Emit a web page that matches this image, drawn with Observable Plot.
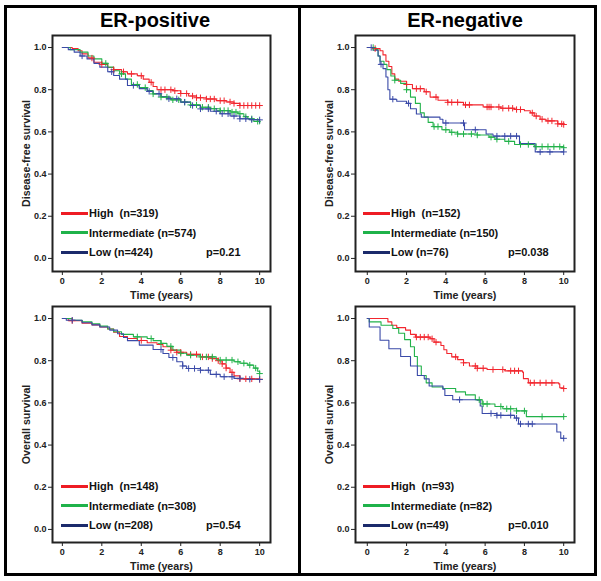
<!DOCTYPE html>
<html><head><meta charset="utf-8">
<script src="https://cdn.jsdelivr.net/npm/d3@7"></script>
<script src="https://cdn.jsdelivr.net/npm/@observablehq/plot@0.6"></script>
<style>
body{margin:0;background:#fff;font-family:"Liberation Sans",Arial,sans-serif;}
#root{position:relative;width:601px;height:581px;overflow:hidden;background:#fff;}
.abs{position:absolute;}
.title{font-size:20px;font-weight:bold;line-height:20px;color:#000;text-align:center;width:200px;}
.leg{font-size:11px;font-weight:bold;line-height:12px;color:#111;white-space:pre;}
.sw{height:3px;width:27px;}
.panel svg g[aria-label="x-axis label"] text,.panel svg g[aria-label="y-axis label"] text{font-size:10.7px;}
</style></head>
<body><div id="root"></div>
<script>
// ---------- data ----------
const groups = ["High", "Intermediate", "Low"];
const panelTitles = ["ER-positive", "ER-negative"];
const xTicks = [0, 2, 4, 6, 8, 10];
const yTicks = [0, 0.2, 0.4, 0.6, 0.8, 1.0];

// ER-positive, disease-free survival
const erPosDfsHigh = [[0,1],[0.5,0.995],[0.8,0.985],[1.0,0.97],[1.3,0.95],[1.6,0.93],[2.0,0.92],[2.3,0.905],[2.6,0.895],[3.0,0.885],[3.3,0.875],[3.8,0.866],[4.1,0.85],[4.4,0.835],[4.6,0.815],[4.8,0.80],[5.6,0.795],[6.0,0.782],[6.4,0.77],[6.8,0.762],[7.3,0.756],[7.8,0.748],[8.3,0.742],[8.7,0.735],[9.0,0.725],[10,0.725]];
const erPosDfsInt = [[0,1],[0.4,0.99],[0.9,0.978],[1.3,0.96],[1.6,0.946],[2.0,0.925],[2.3,0.907],[2.6,0.89],[2.9,0.875],[3.2,0.85],[3.5,0.825],[3.9,0.81],[4.3,0.796],[4.6,0.78],[5.0,0.765],[5.5,0.752],[6.0,0.741],[6.5,0.728],[7.0,0.717],[7.5,0.71],[8.0,0.701],[8.5,0.694],[8.9,0.686],[9.2,0.672],[9.4,0.662],[9.7,0.65],[10,0.638]];
const erPosDfsLow = [[0,1],[0.3,0.99],[0.6,0.978],[0.9,0.96],[1.25,0.946],[1.6,0.925],[1.9,0.907],[2.3,0.885],[2.6,0.867],[2.9,0.85],[3.3,0.82],[3.9,0.805],[4.3,0.792],[4.6,0.781],[5.0,0.768],[5.3,0.757],[6.0,0.741],[6.5,0.725],[7.0,0.709],[7.5,0.698],[8.0,0.686],[8.5,0.675],[9.0,0.662],[9.5,0.658],[10,0.657]];
const erPosDfsHighCens = [1.5,2.0,2.6,3.1,3.5,4.0,4.5,5.0,5.2,5.5,5.7,6.0,6.3,6.6,6.8,7.0,7.3,7.5,7.7,8.0,8.2,8.5,8.7,9.0,9.2,9.4,9.6,9.8,10];
const erPosDfsIntCens = [2.2,3.0,3.8,4.2,4.6,5.0,5.3,5.6,5.9,6.2,6.5,6.8,7.1,7.4,7.7,8.0,8.2,8.4,8.6,8.8,9.0,9.3,9.6,9.9];
const erPosDfsLowCens = [1.0,2.5,3.6,4.4,4.9,5.4,5.8,6.2,6.6,7.0,7.4,7.8,8.1,8.4,8.7,9.0,9.3,9.6,10];

// ER-negative, disease-free survival
const erNegDfsHigh = [[0,1],[0.4,0.995],[0.65,0.985],[0.8,0.965],[0.95,0.935],[1.1,0.91],[1.25,0.875],[1.4,0.85],[1.6,0.84],[2.0,0.825],[2.3,0.805],[2.9,0.79],[3.2,0.765],[3.6,0.75],[4.1,0.74],[4.9,0.728],[5.9,0.718],[6.8,0.712],[7.5,0.706],[8.0,0.7],[8.3,0.69],[8.5,0.675],[8.8,0.66],[9.1,0.652],[9.7,0.638],[10,0.635]];
const erNegDfsInt = [[0,1],[0.4,0.99],[0.55,0.96],[0.65,0.935],[0.85,0.92],[1.0,0.895],[1.2,0.865],[1.4,0.845],[1.7,0.83],[2.0,0.8],[2.2,0.765],[2.45,0.735],[2.7,0.69],[2.9,0.67],[3.1,0.645],[3.35,0.625],[3.8,0.61],[4.2,0.598],[4.6,0.59],[5.6,0.585],[6.2,0.575],[6.5,0.565],[7.0,0.555],[7.5,0.54],[8.5,0.53],[10,0.525]];
const erNegDfsLow = [[0,1],[0.3,0.987],[0.55,0.96],[0.65,0.92],[0.8,0.9],[0.95,0.86],[1.05,0.8],[1.15,0.755],[1.5,0.745],[2.0,0.735],[2.2,0.71],[2.5,0.685],[2.75,0.67],[3.7,0.66],[3.85,0.642],[4.95,0.61],[6.05,0.59],[6.4,0.58],[7.75,0.545],[8.55,0.505],[10,0.505]];
const erNegDfsHighCens = [0.4,2.0,2.5,2.7,3.0,3.5,4.1,4.3,4.6,5.0,5.2,6.1,6.2,6.3,6.7,6.9,7.2,7.4,7.6,7.8,8.4,8.6,8.9,9.2,9.4,9.7,9.9,10];
const erNegDfsIntCens = [0.3,1.4,2.0,3.4,3.6,4.0,4.3,4.6,4.9,5.3,5.6,6.3,6.6,7.2,7.8,8.2,8.6,8.9,9.2,9.5,9.8,10];
const erNegDfsLowCens = [0.2,0.7,1.3,2.1,4.0,4.9,5.5,6.6,7.0,7.3,7.6,8.8,9.3,10];

// ER-positive, overall survival
const erPosOsHigh = [[0,1],[0.3,0.99],[1.0,0.978],[1.5,0.97],[1.9,0.96],[2.3,0.95],[2.6,0.935],[2.9,0.915],[3.3,0.905],[3.8,0.896],[4.3,0.885],[4.8,0.877],[5.1,0.866],[5.5,0.85],[5.8,0.84],[6.3,0.83],[7.0,0.818],[7.6,0.81],[7.9,0.80],[8.1,0.785],[8.3,0.765],[8.5,0.745],[8.7,0.728],[9.0,0.714],[10,0.712]];
const erPosOsInt = [[0,1],[0.5,0.992],[1.0,0.985],[1.5,0.975],[1.9,0.964],[2.3,0.95],[2.6,0.937],[3.0,0.925],[3.6,0.913],[4.3,0.905],[4.6,0.895],[5.0,0.882],[5.3,0.868],[5.6,0.85],[6.0,0.835],[6.3,0.826],[7.0,0.818],[7.8,0.803],[8.7,0.795],[9.0,0.788],[9.4,0.779],[9.7,0.765],[9.9,0.75],[10,0.739]];
const erPosOsLow = [[0,1],[0.2,0.992],[1.0,0.98],[1.5,0.97],[1.9,0.96],[2.4,0.945],[2.8,0.928],[3.1,0.91],[3.3,0.895],[3.9,0.874],[4.6,0.853],[5.1,0.834],[5.4,0.815],[5.8,0.795],[6.1,0.775],[6.3,0.763],[7.0,0.755],[7.5,0.735],[8.0,0.724],[8.7,0.716],[9.2,0.712],[10,0.711]];
const erPosOsHighCens = [0.5,4.0,5.5,5.8,6.0,6.5,6.8,7.1,7.4,7.6,7.9,8.1,8.3,8.6,9.0,9.3,9.6,10];
const erPosOsIntCens = [3.8,4.5,5.0,5.5,6.0,6.5,7.0,7.3,7.6,8.0,8.3,8.6,8.9,9.2,9.5,9.8,10];
const erPosOsLowCens = [0.5,5.0,5.6,6.1,6.4,6.7,7.0,7.4,7.8,8.2,8.6,9.0,9.5,10];

// ER-negative, overall survival
const erNegOsHigh = [[0,1],[1.05,0.984],[1.25,0.968],[1.5,0.957],[1.95,0.945],[2.2,0.925],[2.45,0.912],[3.2,0.904],[3.4,0.888],[3.75,0.872],[3.9,0.852],[4.05,0.834],[4.3,0.818],[4.6,0.805],[4.9,0.79],[5.2,0.775],[5.6,0.764],[6.1,0.758],[7.0,0.752],[7.9,0.746],[7.95,0.715],[8.2,0.695],[9.75,0.69],[9.8,0.672],[10,0.668]];
const erNegOsInt = [[0,1],[0.1,0.984],[0.7,0.968],[1.3,0.953],[1.6,0.93],[1.9,0.9],[2.2,0.866],[2.4,0.82],[2.55,0.775],[2.75,0.73],[3.0,0.695],[3.3,0.675],[3.85,0.668],[4.5,0.652],[5.0,0.638],[5.5,0.615],[5.85,0.595],[6.5,0.583],[6.9,0.572],[7.6,0.562],[8.1,0.535],[10,0.535]];
const erNegOsLow = [[0,1],[0.1,0.96],[0.65,0.897],[1.1,0.857],[1.7,0.82],[2.2,0.775],[2.55,0.73],[2.9,0.714],[3.15,0.68],[3.85,0.665],[3.95,0.635],[4.35,0.615],[5.6,0.613],[5.75,0.585],[5.85,0.55],[6.6,0.541],[7.5,0.528],[7.7,0.5],[9.55,0.5],[9.65,0.462],[9.85,0.432],[10,0.432]];
const erNegOsHighCens = [2.5,2.7,2.9,3.1,3.3,3.5,4.5,4.9,5.5,5.6,5.9,6.4,6.9,7.3,7.5,7.7,8.3,8.5,8.8,9.1,9.4,10];
const erNegOsIntCens = [5.7,5.9,6.1,6.8,7.1,7.3,7.6,8.0,8.9,10];
const erNegOsLowCens = [4.7,6.3,6.6,6.8,7.3,7.6,7.8,8.2,8.4,10];

const nTopLeft = [319, 574, 424], nTopRight = [152, 150, 76], nBotLeft = [148, 308, 208], nBotRight = [93, 82, 49];
const pValues = ["p=0.21", "p=0.038", "p=0.54", "p=0.010"];
const yLabels = ["Disease-free survival", "Overall survival"];
const xLabel = "Time (years)";

// ---------- styling ----------
const curveColors = ["#f2262e", "#22b24a", "#3a4aa8"];
const legendColors = ["#ee1c24", "#1fb24a", "#1b2a6b"];
const FONT = "Liberation Sans, Arial, Helvetica, sans-serif";

function survAt(curve, t) {
  let s = curve[0][1];
  for (const [ti, si] of curve) { if (ti <= t) s = si; else break; }
  return s;
}

const root = document.getElementById("root");
function addDiv(cls, css, text) {
  const d = document.createElement("div");
  d.className = "abs " + (cls || "");
  Object.assign(d.style, css);
  if (text != null) d.textContent = text;
  root.appendChild(d);
  return d;
}

function panel({left, top, width, mLeft, mRight, xDomain, curves, cens, yLabel, ns, p, legLeft, legTop}) {
  const rows = [];
  curves.forEach((c, i) => c.forEach(([t, s]) => rows.push({t, s, g: groups[i]})));
  const cr = [];
  cens.forEach((c, i) => c.forEach(t => cr.push({t, s: survAt(curves[i], t), g: groups[i]})));
  const chart = Plot.plot({
    width, height: 270,
    marginLeft: mLeft, marginRight: mRight, marginTop: 5, marginBottom: 29,
    style: {fontFamily: FONT, fontSize: "9px", fontWeight: "bold", color: "#222", background: "transparent", overflow: "visible"},
    x: {domain: xDomain, ticks: xTicks, tickSize: 4, tickPadding: 2, tickFormat: d => String(d), label: xLabel, labelAnchor: "center", labelOffset: 27, labelArrow: "none"},
    y: {domain: [-0.062, 1.057], ticks: yTicks, tickSize: 4, tickPadding: 2, tickFormat: d3.format(".1f"), label: yLabel, labelAnchor: "center", labelOffset: 30, labelArrow: "none"},
    color: {domain: groups, range: curveColors},
    marks: [
      Plot.line(rows, {x: "t", y: "s", z: "g", stroke: "g", curve: "step-after", strokeWidth: 1.1}),
      Plot.dot(cr, {x: "t", y: "s", stroke: "g", symbol: "plus", r: 2.2, strokeWidth: 1}),
      Plot.frame({stroke: "#222", strokeWidth: 2})
    ]
  });
  const wrap = addDiv("panel", {left: left + "px", top: top + "px"});
  wrap.appendChild(chart);
  // legend inside the plot frame
  const labels = [`High  (n=${ns[0]})`, `Intermediate (n=${ns[1]})`, `Low (n=${ns[2]})`];
  labels.forEach((lab, i) => {
    const cy = legTop + i * 19.5;
    addDiv("sw", {left: legLeft + "px", top: (cy - 1.5) + "px", background: legendColors[i]});
    addDiv("leg", {left: (legLeft + 28) + "px", top: (cy - 6) + "px"}, lab);
  });
  addDiv("leg", {left: (legLeft + 145) + "px", top: (legTop + 39 - 6) + "px"}, p);
}

// frame / dividers
addDiv("", {left: "4px", top: "5px", width: "593px", height: "571px", border: "3px solid #000", boxSizing: "border-box"});
addDiv("", {left: "298px", top: "5px", width: "3px", height: "571px", background: "#000"});
addDiv("title", {left: "55px", top: "10px"}, panelTitles[0]);
addDiv("title", {left: "365px", top: "10px"}, panelTitles[1]);

const L = {width: 290, mLeft: 52, mRight: 20, xDomain: [-0.5, 10.55]};
const R = {width: 300, mLeft: 55, mRight: 26, xDomain: [-0.6, 10.55]};
panel({left: 0, top: 30, ...L, curves: [erPosDfsHigh, erPosDfsInt, erPosDfsLow], cens: [erPosDfsHighCens, erPosDfsIntCens, erPosDfsLowCens], yLabel: yLabels[0], ns: nTopLeft, p: pValues[0], legLeft: 61, legTop: 213});
panel({left: 300, top: 30, ...R, curves: [erNegDfsHigh, erNegDfsInt, erNegDfsLow], cens: [erNegDfsHighCens, erNegDfsIntCens, erNegDfsLowCens], yLabel: yLabels[0], ns: nTopRight, p: pValues[1], legLeft: 363, legTop: 213});
panel({left: 0, top: 301, ...L, curves: [erPosOsHigh, erPosOsInt, erPosOsLow], cens: [erPosOsHighCens, erPosOsIntCens, erPosOsLowCens], yLabel: yLabels[1], ns: nBotLeft, p: pValues[2], legLeft: 61, legTop: 486});
panel({left: 300, top: 301, ...R, curves: [erNegOsHigh, erNegOsInt, erNegOsLow], cens: [erNegOsHighCens, erNegOsIntCens, erNegOsLowCens], yLabel: yLabels[1], ns: nBotRight, p: pValues[3], legLeft: 363, legTop: 486});
</script>
</body></html>
